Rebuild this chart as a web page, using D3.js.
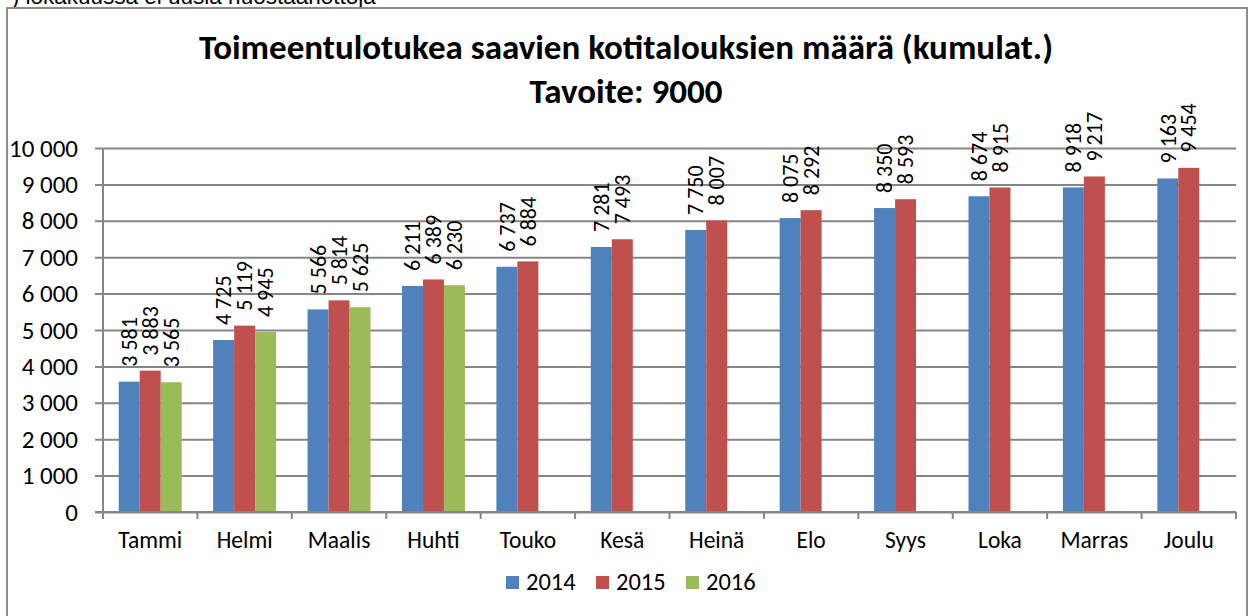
<!DOCTYPE html>
<html>
<head>
<meta charset="utf-8">
<script src="https://cdn.jsdelivr.net/npm/d3@7"></script>
<style>
  html, body { margin: 0; padding: 0; background: #fff; }
  svg { display: block; }
  text { font-family: Carlito, Lato, "Noto Sans", sans-serif; fill: #000; }
</style>
</head>
<body>
<svg id="chart" width="1254" height="616"></svg>
<script>
// Monthly cumulative counts of households receiving income support
const months = ["Tammi", "Helmi", "Maalis", "Huhti", "Touko", "Kesä", "Heinä", "Elo", "Syys", "Loka", "Marras", "Joulu"];
const seriesNames = ["2014", "2015", "2016"];
const values2014 = [3581, 4725, 5566, 6211, 6737, 7281, 7750, 8075, 8350, 8674, 8918, 9163];
const values2015 = [3883, 5119, 5814, 6389, 6884, 7493, 8007, 8292, 8593, 8915, 9217, 9454];
const values2016 = [3565, 4945, 5625, 6230];
const yTickValues = [0, 1000, 2000, 3000, 4000, 5000, 6000, 7000, 8000, 9000, 10000];
const colors = ["#4F81BD", "#C0504D", "#9BBB59"];

const titleLine1 = "Toimeentulotukea saavien kotitalouksien määrä (kumulat.)";
const titleLine2 = "Tavoite: 9000";
const noteText = "*) lokakuussa ei uusia huostaanottoja";

const fi = d3.formatLocale({ decimal: ",", thousands: " ", grouping: [3], currency: ["", " €"] });
const fmt = fi.format(",d");

const svg = d3.select("#chart");
const plot = { left: 103, right: 1236, top: 148, bottom: 512 };

// note line from the page above, partly cut off
svg.append("text")
  .attr("x", 3).attr("y", 3.5)
  .style("font-family", "'Liberation Sans', Arial, sans-serif")
  .style("font-size", "22.5px")
  .text(noteText);

// chart area frame
svg.append("rect")
  .attr("x", 7).attr("y", 8)
  .attr("width", 1240).attr("height", 640)
  .attr("fill", "#fff")
  .attr("stroke", "#8c8c8c").attr("stroke-width", 2);

// title
const title = svg.append("g").attr("font-weight", "bold").attr("text-anchor", "middle");
title.append("text").attr("x", 626).attr("y", 59).style("font-size", "35px").text(titleLine1);
title.append("text").attr("x", 626).attr("y", 102.5).style("font-size", "35px").text(titleLine2);

// scales
const y = d3.scaleLinear().domain([0, 10000]).range([plot.bottom, plot.top]);
const x0 = d3.scaleBand().domain(months).range([plot.left, plot.right]).padding(0);
const x1 = d3.scaleBand().domain(seriesNames).range([0, x0.bandwidth()])
  .paddingInner(0).paddingOuter(0.75);

// gridlines with outer ticks to the left of the value axis
const yAxis = d3.axisLeft(y).tickValues(yTickValues)
  .tickSize(-(plot.right - plot.left)).tickPadding(25)
  .tickFormat(d => fmt(d));
const gy = svg.append("g").attr("transform", `translate(${plot.left},0)`).call(yAxis);
gy.select(".domain").remove();
gy.selectAll(".tick line")
  .attr("x1", -8)
  .attr("stroke", "#868686").attr("stroke-width", 2);
gy.selectAll(".tick text")
  .style("font-size", "25px")
  .style("font-family", "Carlito, Lato, 'Noto Sans', sans-serif")
  .attr("fill", "#000");

// value axis line
svg.append("line")
  .attr("x1", plot.left).attr("x2", plot.left)
  .attr("y1", plot.top).attr("y2", plot.bottom)
  .attr("stroke", "#868686").attr("stroke-width", 2);

// bars
const data = [values2014, values2015, values2016];
const groups = svg.append("g");
seriesNames.forEach((name, si) => {
  const vals = data[si];
  const g = groups.append("g");
  g.selectAll("rect")
    .data(vals.map((v, i) => ({ m: months[i], v })))
    .join("rect")
    .attr("x", d => x0(d.m) + x1(name))
    .attr("y", d => y(d.v))
    .attr("width", x1.bandwidth())
    .attr("height", d => y(0) - y(d.v))
    .attr("fill", colors[si]);

  // rotated value labels above each bar
  g.selectAll("text")
    .data(vals.map((v, i) => ({ m: months[i], v })))
    .join("text")
    .attr("transform", d => `translate(${x0(d.m) + x1(name) + x1.bandwidth() / 2},${y(d.v) - 15}) rotate(-90)`)
    .attr("dy", "0.35em")
    .attr("text-anchor", "start")
    .style("font-size", "22px")
    .text(d => fmt(d.v));
});

// category axis with tick marks at group boundaries
svg.append("line")
  .attr("x1", plot.left - 8).attr("x2", plot.right)
  .attr("y1", plot.bottom).attr("y2", plot.bottom)
  .attr("stroke", "#868686").attr("stroke-width", 2);
const boundaries = months.map(m => x0(m)).concat([plot.right]);
svg.append("g").selectAll("line")
  .data(boundaries)
  .join("line")
  .attr("x1", d => d).attr("x2", d => d)
  .attr("y1", plot.bottom).attr("y2", plot.bottom + 7)
  .attr("stroke", "#868686").attr("stroke-width", 2);
svg.append("g").selectAll("text")
  .data(months)
  .join("text")
  .attr("x", d => x0(d) + x0.bandwidth() / 2)
  .attr("y", 548)
  .attr("text-anchor", "middle")
  .style("font-size", "23.5px")
  .text(d => d);

// legend
const legendX = [506, 596, 686];
const legend = svg.append("g");
seriesNames.forEach((name, i) => {
  legend.append("rect")
    .attr("x", legendX[i]).attr("y", 576)
    .attr("width", 13).attr("height", 13)
    .attr("fill", colors[i]);
  legend.append("text")
    .attr("x", legendX[i] + 20).attr("y", 590)
    .style("font-size", "24.5px")
    .text(name);
});
</script>
</body>
</html>
